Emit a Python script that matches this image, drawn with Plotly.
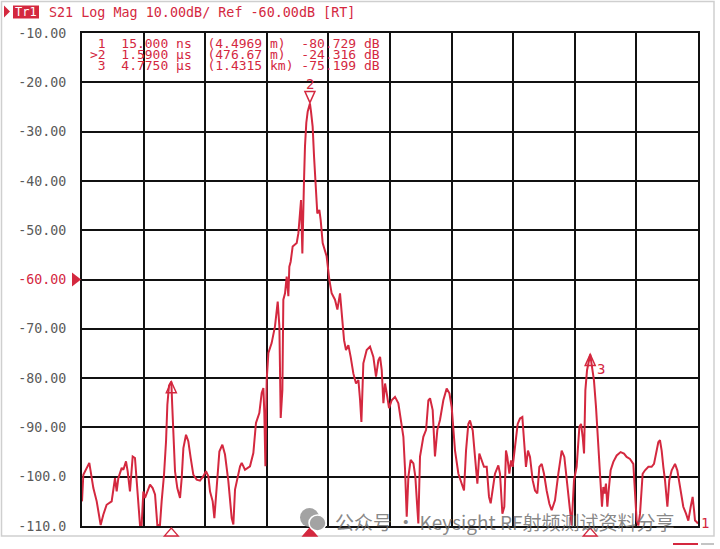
import plotly.graph_objects as go

# ---------------- data ----------------
time_us = [
    -1.000, -0.985, -0.917, -0.871, -0.833, -0.788, -0.758, -0.720, -0.663, -0.644,
    -0.625, -0.606, -0.587, -0.549, -0.530, -0.500, -0.481, -0.455, -0.424, -0.398,
    -0.379, -0.360, -0.341, -0.322, -0.303, -0.284, -0.246, -0.227, -0.197, -0.170,
    -0.144, -0.114, -0.095, -0.068, -0.045, -0.030, -0.011, 0.003, 0.015, 0.025,
    0.038, 0.057, 0.083, 0.114, 0.133, 0.152, 0.182, 0.208, 0.235, 0.265,
    0.303, 0.341, 0.379, 0.409, 0.436, 0.455, 0.485, 0.504, 0.530, 0.561,
    0.595, 0.625, 0.663, 0.701, 0.720, 0.739, 0.796, 0.815, 0.852, 0.909,
    0.947, 0.977, 1.015, 1.042, 1.061, 1.072, 1.084, 1.099, 1.118, 1.155,
    1.193, 1.224, 1.243, 1.258, 1.277, 1.288, 1.307, 1.326, 1.345, 1.356,
    1.371, 1.394, 1.440, 1.459, 1.477, 1.489, 1.504, 1.515, 1.523, 1.534,
    1.549, 1.565, 1.590, 1.602, 1.621, 1.637, 1.655, 1.674, 1.697, 1.712,
    1.735, 1.762, 1.780, 1.811, 1.837, 1.875, 1.902, 1.932, 1.951, 1.978,
    2.000, 2.027, 2.053, 2.084, 2.114, 2.141, 2.160, 2.175, 2.197, 2.235,
    2.273, 2.311, 2.341, 2.368, 2.387, 2.406, 2.425, 2.444, 2.463, 2.489,
    2.519, 2.557, 2.595, 2.625, 2.652, 2.671, 2.690, 2.709, 2.735, 2.766,
    2.788, 2.807, 2.822, 2.841, 2.879, 2.910, 2.936, 2.955, 2.985, 3.011,
    3.038, 3.068, 3.106, 3.144, 3.175, 3.201, 3.220, 3.239, 3.277, 3.315,
    3.341, 3.364, 3.390, 3.409, 3.440, 3.466, 3.493, 3.515, 3.542, 3.568,
    3.599, 3.625, 3.644, 3.667, 3.693, 3.731, 3.750, 3.777, 3.799, 3.818,
    3.833, 3.856, 3.875, 3.894, 3.913, 3.932, 3.951, 3.977, 4.004, 4.023,
    4.045, 4.068, 4.091, 4.121, 4.148, 4.174, 4.197, 4.224, 4.250, 4.280,
    4.311, 4.337, 4.375, 4.413, 4.451, 4.481, 4.508, 4.538, 4.564, 4.591,
    4.621, 4.652, 4.671, 4.690, 4.705, 4.720, 4.739, 4.775, 4.792, 4.818,
    4.841, 4.867, 4.886, 4.898, 4.909, 4.924, 4.939, 4.954, 4.970, 4.985,
    5.007, 5.038, 5.076, 5.121, 5.159, 5.189, 5.227, 5.265, 5.284, 5.303,
    5.322, 5.341, 5.371, 5.398, 5.436, 5.473, 5.500, 5.523, 5.549, 5.568,
    5.587, 5.606, 5.625, 5.652, 5.674, 5.701, 5.739, 5.765, 5.788, 5.807,
    5.833, 5.864, 5.890, 5.917, 5.939, 5.955, 5.966, 5.985, 6.000,
]
s21_db = [
    -105.0, -99.6, -97.2, -102.3, -105.0, -109.8, -107.7, -105.7, -105.0, -102.3,
    -100.3, -103.0, -100.3, -98.2, -98.6, -96.9, -98.9, -103.0, -95.9, -96.2,
    -100.9, -105.0, -109.8, -109.8, -103.0, -104.3, -102.3, -101.6, -102.3, -103.6,
    -109.8, -109.8, -105.0, -99.6, -92.8, -85.4, -81.5, -81.0, -80.7, -85.4,
    -92.8, -98.9, -102.3, -104.3, -100.3, -94.2, -91.5, -92.8, -96.2, -99.6,
    -100.6, -100.8, -99.9, -98.9, -99.9, -103.0, -105.0, -108.4, -102.3, -94.9,
    -93.5, -95.5, -100.9, -108.4, -109.7, -102.6, -97.9, -97.2, -98.6, -97.9,
    -95.2, -89.1, -87.1, -83.0, -82.0, -87.1, -97.9, -80.3, -74.9, -72.9,
    -69.5, -64.5, -69.5, -88.1, -82.4, -64.1, -62.8, -59.4, -63.4, -57.4,
    -56.4, -53.3, -52.6, -50.6, -46.6, -43.9, -54.7, -48.6, -39.8, -33.0,
    -28.2, -25.9, -24.3, -25.9, -29.0, -35.1, -40.5, -46.6, -45.9, -47.9,
    -52.6, -54.0, -55.3, -60.1, -62.8, -64.1, -66.1, -62.8, -67.2, -72.3,
    -74.3, -73.3, -75.7, -79.1, -81.1, -80.4, -84.5, -88.9, -77.0, -74.3,
    -73.6, -75.7, -79.7, -76.4, -75.7, -78.4, -85.1, -81.1, -83.1, -86.1,
    -84.5, -83.8, -85.1, -89.2, -91.9, -98.6, -108.1, -100.0, -96.6, -97.3,
    -100.0, -105.4, -109.5, -95.9, -91.9, -90.5, -84.5, -84.1, -86.5, -95.9,
    -90.5, -88.5, -84.5, -82.1, -83.1, -85.9, -90.6, -94.7, -99.4, -101.4,
    -102.8, -94.7, -89.3, -88.6, -90.6, -96.0, -101.4, -95.3, -96.7, -98.0,
    -98.0, -104.1, -105.4, -102.8, -99.4, -97.7, -99.4, -107.5, -106.1, -94.7,
    -96.0, -99.4, -96.7, -98.0, -94.7, -92.6, -89.3, -88.2, -87.9, -92.6,
    -98.0, -94.7, -96.0, -100.7, -102.8, -103.4, -98.0, -97.4, -99.4, -102.8,
    -105.5, -106.8, -104.8, -99.4, -94.7, -96.0, -100.7, -106.1, -109.9, -100.7,
    -98.0, -89.9, -89.3, -92.0, -95.3, -82.5, -78.4, -75.2, -77.1, -80.5,
    -85.9, -94.7, -99.4, -104.8, -106.1, -102.1, -103.4, -101.4, -106.1, -102.8,
    -98.7, -97.0, -95.7, -95.0, -95.3, -96.0, -96.4, -97.4, -102.1, -108.9,
    -109.9, -107.5, -99.4, -98.7, -98.0, -98.0, -97.4, -95.3, -93.0, -92.6,
    -94.7, -98.0, -100.7, -106.1, -100.7, -98.7, -97.4, -98.7, -101.4, -103.4,
    -106.1, -107.5, -108.9, -106.1, -104.1, -106.8, -108.9, -109.2, -109.5,
]

marker_ids = ["1", "2", "3"]
marker_time_us = [0.015, 1.590, 4.775]
marker_db = [-80.729, -24.316, -75.199]
marker_time_txt = ["15.000 ns", "1.5900 µs", "4.7750 µs"]
marker_dist_txt = ["(4.4969 m)", "(476.67 m)", "(1.4315 km)"]
active_marker = "2"

y_tick_vals = [-110, -100, -90, -80, -70, -60, -50, -40, -30, -20, -10]
y_tick_text = ["-110.0", "-100.0", "-90.00", "-80.00", "-70.00", "-60.00",
               "-50.00", "-40.00", "-30.00", "-20.00", "-10.00"]
ref_level = -60

header_trace = "Tr1"
header_text = "S21 Log Mag 10.00dB/ Ref -60.00dB [RT]"
watermark = "公众号 · Keysight RF射频测试资料分享"

# ---------------- layout helpers ----------------
W, H = 720, 549
PL, PT, PW, PH = 82, 33, 616, 493          # plot area in page pixels
L, T = PL, PT
R, B = W - L - PW, H - T - PH
RED = "#d4283f"
MONO = "DejaVu Sans Mono"


def px(x):
    return (x - PL) / PW


def py(y):
    return (PT + PH - y) / PH


NB = "\u00a0"

fig = go.Figure()
fig.add_trace(go.Scatter(x=time_us, y=s21_db, mode="lines",
                         line=dict(color=RED, width=2), hoverinfo="skip",
                         showlegend=False))

ticktext = [f'<span style="color:{RED}">{t}</span>' if v == ref_level else t
            for v, t in zip(y_tick_vals, y_tick_text)]

shapes = []
annotations = []

# outer light frame
shapes.append(dict(type="rect", xref="paper", yref="paper",
                   x0=px(1.5), x1=px(714), y0=py(536), y1=py(1.5),
                   line=dict(color="#cfcfcf", width=1.5), layer="below"))
# status bar bits bottom right
shapes.append(dict(type="line", xref="paper", yref="paper", x0=px(673), x1=px(698),
                   y0=py(544), y1=py(544), line=dict(color=RED, width=2)))
shapes.append(dict(type="line", xref="paper", yref="paper", x0=px(701), x1=px(714),
                   y0=py(544), y1=py(544), line=dict(color="#b0b0b0", width=1.5)))

# header: arrow, Tr1 box, text
shapes.append(dict(type="path", xref="paper", yref="paper",
                   path=f"M {px(4)},{py(5.5)} L {px(10)},{py(11.5)} L {px(4)},{py(17.5)} Z",
                   fillcolor=RED, line=dict(width=0)))
shapes.append(dict(type="rect", xref="paper", yref="paper",
                   x0=px(13), x1=px(39), y0=py(18.5), y1=py(5.5),
                   fillcolor=RED, line=dict(width=0)))
annotations.append(dict(xref="paper", yref="paper", x=px(26), y=py(12), text=header_trace,
                        showarrow=False, xanchor="center", yanchor="middle",
                        font=dict(family=MONO, size=12, color="white")))
annotations.append(dict(xref="paper", yref="paper", x=px(47), y=py(12),
                        text=header_text.replace(" ", NB), showarrow=False,
                        xanchor="left", yanchor="middle",
                        font=dict(family=MONO, size=13.4, color=RED)))

# marker table
row_y = [43, 54.5, 66]
for i, mid in enumerate(marker_ids):
    pre = ">" if mid == active_marker else " "
    row = (pre + mid + "  " + marker_time_txt[i] + "  " + marker_dist_txt[i].ljust(11)
           + " " + f"{marker_db[i]:.3f}" + " dB")
    annotations.append(dict(xref="paper", yref="paper", x=px(88), y=py(row_y[i]),
                            text=row.replace(" ", NB), showarrow=False,
                            xanchor="left", yanchor="middle",
                            font=dict(family=MONO, size=13, color=RED)))

# reference level arrow on left
shapes.append(dict(type="path", xref="paper", yref="y", xsizemode="pixel",
                   ysizemode="pixel", xanchor=0, yanchor=ref_level,
                   path="M -10,7 L -1,0 L -10,-7 Z", fillcolor=RED, line=dict(width=0)))

# markers on the trace and on the bottom edge
for i, mid in enumerate(marker_ids):
    t, d = marker_time_us[i], marker_db[i]
    active = mid == active_marker
    if active:
        shapes.append(dict(type="path", xref="x", yref="y", xsizemode="pixel",
                           ysizemode="pixel", xanchor=t, yanchor=d,
                           path="M 0,1 L -5,12 L 5,12 Z", fillcolor="white",
                           line=dict(color=RED, width=1.5)))
        annotations.append(dict(x=t, y=d, text=mid, showarrow=False, yshift=20,
                                xanchor="center", yanchor="middle",
                                font=dict(family=MONO, size=14, color=RED)))
    else:
        shapes.append(dict(type="path", xref="x", yref="y", xsizemode="pixel",
                           ysizemode="pixel", xanchor=t, yanchor=d,
                           path="M 0,0 L -5,-11 L 5,-11 Z", fillcolor="rgba(0,0,0,0)",
                           line=dict(color=RED, width=1.5)))
        if mid == "3":
            annotations.append(dict(x=t, y=d, text=mid, showarrow=False, xshift=11,
                                    yshift=-15, xanchor="center", yanchor="middle",
                                    font=dict(family=MONO, size=14, color=RED)))
    shapes.append(dict(type="path", xref="x", yref="paper", xsizemode="pixel",
                       ysizemode="pixel", xanchor=t, yanchor=0,
                       path="M -7,-10 L 7,-10 L 0,-2 Z",
                       fillcolor=RED if active else "white",
                       line=dict(color=RED, width=1.3)))

annotations.append(dict(xref="paper", yref="paper", x=px(705), y=py(523), text="1",
                        showarrow=False, xanchor="center", yanchor="middle",
                        font=dict(family=MONO, size=14, color=RED)))

# watermark
shapes.append(dict(type="circle", xref="paper", yref="paper",
                   x0=px(300), x1=px(319), y0=py(527), y1=py(508),
                   fillcolor="#a3a3a3", line=dict(width=0)))
shapes.append(dict(type="circle", xref="paper", yref="paper",
                   x0=px(309), x1=px(326), y0=py(531), y1=py(515),
                   fillcolor="#a3a3a3", line=dict(color="white", width=1.5)))
annotations.append(dict(xref="paper", yref="paper", x=px(333), y=py(521),
                        text=watermark, showarrow=False, xanchor="left", yanchor="middle",
                        font=dict(family="Noto Sans CJK SC", size=19,
                                  color="rgba(105,105,105,0.8)")))

fig.update_layout(
    width=W, height=H,
    margin=dict(l=L, r=R, t=T, b=B, pad=0),
    paper_bgcolor="white", plot_bgcolor="white",
    showlegend=False,
    shapes=shapes, annotations=annotations,
    xaxis=dict(range=[-1, 6], tick0=-1, dtick=0.7, showticklabels=False,
               showgrid=True, gridcolor="#111111", gridwidth=2, zeroline=False,
               showline=True, linecolor="#111111", linewidth=2, mirror=True,
               ticks="", fixedrange=True),
    yaxis=dict(range=[-110, -10], tickvals=y_tick_vals, ticktext=ticktext,
               showgrid=True, gridcolor="#111111", gridwidth=2, zeroline=False,
               showline=True, linecolor="#111111", linewidth=2, mirror=True,
               ticks="", ticklabelstandoff=11,
               tickfont=dict(family=MONO, size=13.3, color="#5a5a5a"),
               fixedrange=True),
)

# remove the browser's default 8px body margin so the figure sits at the page origin
fig.write_html("out.html", config={"displayModeBar": False},
               post_script="document.body.style.margin='0px';")
